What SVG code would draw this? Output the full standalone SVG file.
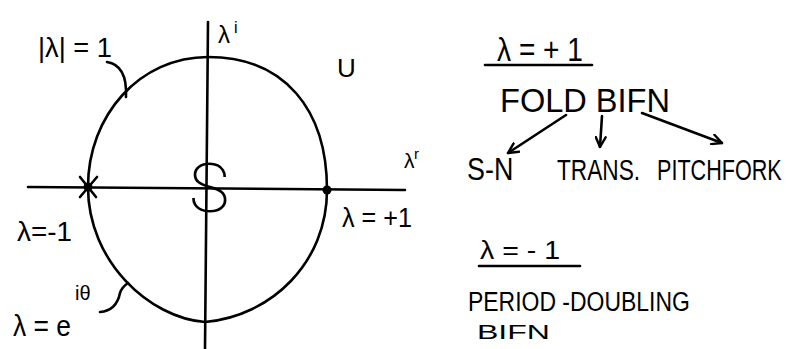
<svg xmlns="http://www.w3.org/2000/svg" width="786" height="349" viewBox="0 0 786 349">
<defs>
<style>
.ln{stroke:#000;stroke-width:2.6;fill:none;stroke-linecap:round;stroke-linejoin:round}
.t{font-family:"Liberation Sans","DejaVu Sans",sans-serif;fill:#000}
</style>
<marker id="ah" viewBox="0 0 12 12" refX="11" refY="6" markerWidth="12" markerHeight="12" markerUnits="userSpaceOnUse" orient="auto">
<path d="M1,1 L11,6 L1,11" fill="none" stroke="#000" stroke-width="2.4" stroke-linecap="round" stroke-linejoin="round"/>
</marker>
</defs>
<rect width="786" height="349" fill="#fff"/>

<g id="axes">
<line class="ln" x1="208" y1="22" x2="205" y2="349"/>
<line class="ln" x1="28" y1="187" x2="405" y2="190"/>
</g>

<g id="unit-circle">
<path class="ln" d="M208,57 C285,57 327,110 327,190 C327,262 272,316 205,322 C150,318 88,262 88,187"/>
<path class="ln" stroke-width="3.2" d="M88,187 C88,115 140,57 208,57"/>
</g>

<g id="point-minus1">
<line class="ln" x1="80" y1="177" x2="96" y2="197" stroke-width="2.2"/>
<line class="ln" x1="97" y1="177" x2="80" y2="197" stroke-width="2.2"/>
<circle cx="88" cy="187" r="4.5" fill="#000"/>
</g>

<g id="point-plus1">
<circle cx="327" cy="190" r="4.5" fill="#000"/>
</g>

<g id="labels-plane">
<text class="t" x="38" y="57" font-size="27" textLength="74" lengthAdjust="spacingAndGlyphs">|λ| = 1</text>
<path class="ln" d="M107,62 C120,64 127,75 126,97"/>
<text class="t" x="218" y="43" font-size="24">λ</text>
<text class="t" x="234" y="33" font-size="16">i</text>
<text class="t" x="337" y="77" font-size="26">U</text>
<text x="209" y="212" font-size="68" font-family="Roboto,Lato,'Open Sans',sans-serif" font-weight="200" text-anchor="middle">S</text>
<text class="t" x="404" y="168" font-size="21">λ</text>
<text class="t" x="414" y="159" font-size="15">r</text>
<text class="t" x="17" y="241" font-size="28" textLength="55" lengthAdjust="spacingAndGlyphs">λ=-1</text>
<text class="t" x="342" y="227" font-size="27" textLength="70" lengthAdjust="spacingAndGlyphs">λ = +1</text>
<text class="t" x="13" y="336" font-size="30" textLength="58" lengthAdjust="spacingAndGlyphs">λ = e</text>
<text class="t" x="75" y="300" font-size="20">iθ</text>
<path class="ln" d="M100,312 C112,311 118,303 120,293 C122,287 125,285 128,283"/>
</g>

<g id="fold-heading">
<text class="t" x="497" y="61" font-size="34" textLength="86" lengthAdjust="spacingAndGlyphs">λ = + 1</text>
<line class="ln" x1="485" y1="65" x2="592" y2="65" stroke-width="3"/>
</g>

<g id="fold-bifn">
<text class="t" x="500" y="112" font-size="33" textLength="170" lengthAdjust="spacingAndGlyphs">FOLD BIFN</text>
</g>

<g id="s-n">
<text class="t" transform="translate(467,180) scale(0.84,1)" font-size="32">S-N</text>
</g>
<g id="trans">
<text class="t" transform="translate(557,180) scale(0.755,1)" font-size="30">TRANS.</text>
</g>
<g id="pitchfork">
<text class="t" transform="translate(657,180) scale(0.72,1)" font-size="30">PITCHFORK</text>
</g>

<g id="connectors">
<line class="ln" x1="566" y1="115" x2="508" y2="153" marker-end="url(#ah)"/>
<line class="ln" x1="602" y1="116" x2="600" y2="147" marker-end="url(#ah)"/>
<line class="ln" x1="642" y1="113" x2="722" y2="143" marker-end="url(#ah)"/>
</g>

<g id="pd-heading">
<text class="t" x="480" y="259" font-size="26" textLength="80" lengthAdjust="spacingAndGlyphs">λ = - 1</text>
<line class="ln" x1="479" y1="266" x2="580" y2="266" stroke-width="3"/>
</g>

<g id="pd-bifn">
<text class="t" transform="translate(468,311) scale(0.85,1)" font-size="27">PERIOD -DOUBLING</text>
<text class="t" x="477" y="339" font-size="21" textLength="73" lengthAdjust="spacingAndGlyphs">BIFN</text>
</g>
</svg>
